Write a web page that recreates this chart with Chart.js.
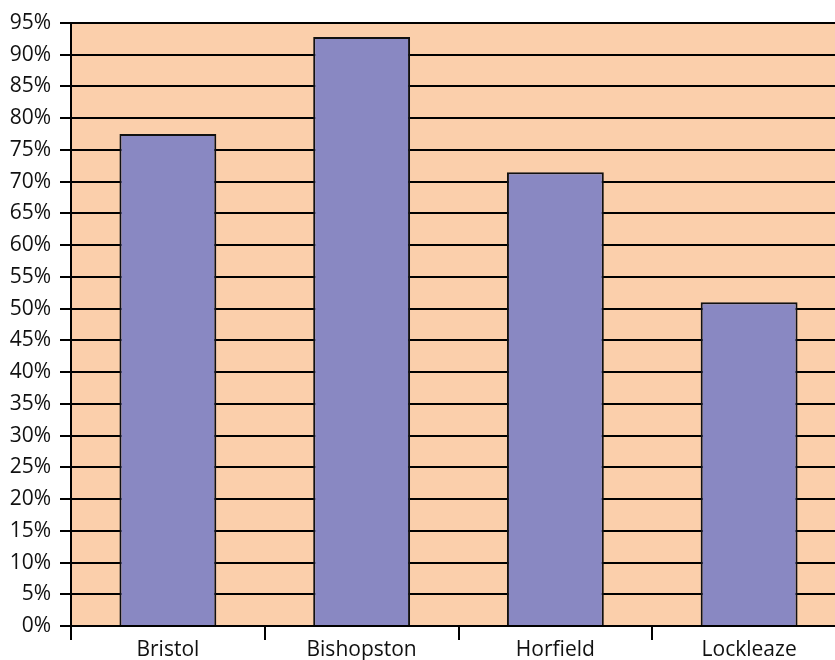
<!DOCTYPE html>
<html>
<head>
<meta charset="utf-8">
<script src="https://cdn.jsdelivr.net/npm/chart.js@4/dist/chart.umd.min.js"></script>
<style>
  html, body { margin: 0; padding: 0; background: #fff; overflow: hidden; }
  #wrap { position: relative; width: 846px; height: 660px; }
</style>
</head>
<body>
<div id="wrap"><canvas id="c" width="846" height="660"></canvas></div>
<script>
// Share of respondents by area
const categories = ['Bristol', 'Bishopston', 'Horfield', 'Lockleaze'];
const shares = [77.5, 92.8, 71.5, 51.0];
const yTicks = [0, 5, 10, 15, 20, 25, 30, 35, 40, 45, 50, 55, 60, 65, 70, 75, 80, 85, 90, 95];

const FONT = "'Open Sans', 'DejaVu Sans', sans-serif";

// Peach plot background behind the bars
const plotBackground = {
  id: 'plotBackground',
  beforeDraw(chart) {
    const { ctx, chartArea: a } = chart;
    ctx.save();
    ctx.fillStyle = '#FBCFAB';
    ctx.fillRect(a.left, a.top, a.right - a.left, a.bottom - a.top);
    ctx.restore();
  }
};

new Chart(document.getElementById('c'), {
  type: 'bar',
  data: {
    labels: categories,
    datasets: [{
      data: shares,
      backgroundColor: '#8988C2',
      borderColor: '#111111',
      borderWidth: 2,
      barPercentage: 0.5,
      categoryPercentage: 1.0
    }]
  },
  options: {
    responsive: false,
    animation: false,
    layout: { padding: { top: 23, right: 0, bottom: 0, left: 0 } },
    plugins: { legend: { display: false }, tooltip: { enabled: false } },
    scales: {
      x: {
        offset: true,
        afterFit(scale) { scale.height = 34; },
        grid: {
          offset: true,
          drawOnChartArea: false,
          drawTicks: true,
          tickLength: 14,
          color: '#000',
          lineWidth: 2
        },
        border: { color: '#000', width: 2 },
        ticks: {
          color: '#111',
          font: { family: FONT, size: 21 },
          padding: -3,
          maxRotation: 0
        }
      },
      y: {
        min: 0,
        max: 95,
        afterBuildTicks(scale) { scale.ticks = yTicks.map(v => ({ value: v })); },
        afterFit(scale) { scale.width = 71; },
        grid: { color: '#000', lineWidth: 2, tickLength: 11 },
        border: { color: '#000', width: 2 },
        ticks: {
          color: '#111',
          font: { family: FONT, size: 21 },
          padding: 9,
          callback: v => v + '%'
        }
      }
    }
  },
  plugins: [plotBackground]
});
</script>
</body>
</html>
